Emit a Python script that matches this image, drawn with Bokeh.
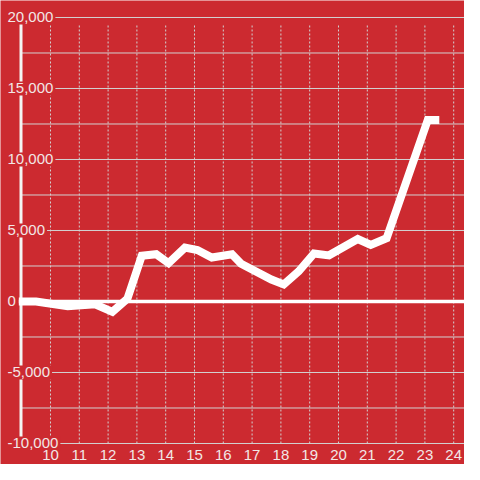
from bokeh.plotting import figure
from bokeh.models import Range1d
from bokeh.core.properties import value
from bokeh.embed import file_html
from bokeh.resources import INLINE

# ---- data ----
x_vals = [8.9, 9.5, 10.6, 11.55, 12.15, 12.67, 13.17, 13.67, 14.1, 14.67, 15.1, 15.6,
          16.3, 16.62, 17.67, 18.1, 18.62, 19.15, 19.67, 20.67, 21.12, 21.67, 23.1, 23.5]
y_vals = [0, 0, -330, -200, -730, 200, 3220, 3330, 2700, 3800, 3630, 3100,
          3330, 2650, 1550, 1200, 2130, 3380, 3250, 4400, 3980, 4450, 12780, 12780]
x_ticks = list(range(10, 25))
x_labels = [str(t) for t in x_ticks]
y_grid = [-10000, -7500, -5000, -2500, 0, 2500, 5000, 7500, 10000, 12500, 15000, 17500, 20000]
y_ticks = [-10000, -5000, 0, 5000, 10000, 15000, 20000]
y_labels = ["-10,000", "-5,000", "0", "5,000", "10,000", "15,000", "20,000"]

# ---- style / layout constants ----
BG = "#cc2a30"
TXT = "#f2e6e6"
GRID = "#d2d2d2"
FONT = "Liberation Sans"
X_MIN, X_MAX = 8.2639, 24.375
Y_MIN, Y_MAX = -11479, 21197
AXIS_X = 8.976
LABEL_X = 8.4375
GRID_RIGHT = 25.0
VGRID_BOTTOM, VGRID_TOP = -10000, 19500
AXIS_BOTTOM, AXIS_TOP = -10000, 20000
X_LABEL_Y = -10775

p = figure(width=464, height=464, output_backend="svg", toolbar_location=None,
           x_range=Range1d(X_MIN, X_MAX), y_range=Range1d(Y_MIN, Y_MAX),
           min_border_left=0, min_border_right=0, min_border_top=0, min_border_bottom=0,
           background_fill_color=BG, border_fill_color=BG, outline_line_color=None)

p.xaxis.visible = False
p.yaxis.visible = False
p.xgrid.visible = False
p.ygrid.visible = False

n_x = len(x_ticks)
n_y = len(y_grid)

# vertical dotted grid lines
p.segment(x0=x_ticks, y0=[VGRID_BOTTOM] * n_x, x1=x_ticks, y1=[VGRID_TOP] * n_x,
          line_color=GRID, line_width=1, line_dash="2 2")
# horizontal grid lines
p.segment(x0=[AXIS_X] * n_y, y0=y_grid, x1=[GRID_RIGHT] * n_y, y1=y_grid,
          line_color=GRID, line_width=1)

# zero line and vertical axis line
p.ray(x=[x_vals[0]], y=[0], length=0, angle=0, line_color="white", line_width=3.5)
p.segment(x0=[AXIS_X], y0=[AXIS_BOTTOM], x1=[AXIS_X], y1=[AXIS_TOP],
          line_color="#f4f4f4", line_width=3)

# data line
p.line(x_vals, y_vals, line_color="white", line_width=8, line_join="miter")

# y tick labels with a background box
p.text(x=[LABEL_X] * len(y_ticks), y=y_ticks, text=y_labels,
       text_align="left", text_baseline="middle", text_color=TXT,
       text_font=value(FONT), text_font_size="15px",
       background_fill_color=BG, padding=2)

# x tick labels
p.text(x=x_ticks, y=[X_LABEL_Y] * n_x, text=x_labels,
       text_align="center", text_baseline="middle", text_color=TXT,
       text_font=value(FONT), text_font_size="15px")

open("out.html", "w").write(file_html(p, INLINE))
